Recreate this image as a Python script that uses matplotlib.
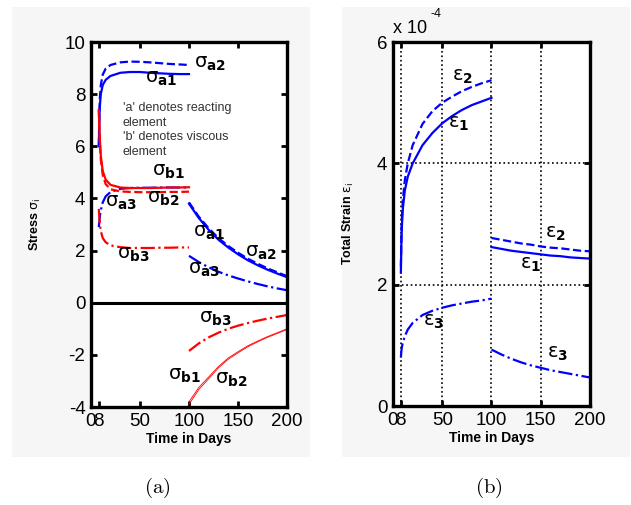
import numpy as np
import matplotlib.pyplot as plt
from matplotlib.patches import Rectangle
from matplotlib.ticker import FuncFormatter

plt.rcParams['font.family'] = ['Liberation Sans', 'DejaVu Sans']
plt.rcParams['axes.unicode_minus'] = False
plt.rcParams['mathtext.fontset'] = 'dejavusans'

# time (days): loading phase and unloading phase
t1 = [8, 8.5, 9, 10, 12, 15, 20, 30, 40, 50, 60, 70, 80, 90, 100]
t2 = [100, 110, 120, 130, 140, 150, 160, 170, 180, 190, 200]

# stresses, loading phase
sa1_1 = [6.0, 7.0, 7.5, 8.0, 8.35, 8.55, 8.7, 8.82, 8.85, 8.85, 8.82, 8.8, 8.78, 8.77, 8.77]
sa2_1 = [6.0, 7.2, 7.8, 8.35, 8.75, 8.98, 9.12, 9.22, 9.25, 9.24, 9.22, 9.19, 9.16, 9.14, 9.12]
sa3_1 = [2.9, 3.1, 3.3, 3.55, 3.85, 4.08, 4.25, 4.37, 4.4, 4.41, 4.41, 4.42, 4.42, 4.42, 4.42]
sb1_1 = [7.4, 6.8, 6.3, 5.65, 5.05, 4.72, 4.52, 4.42, 4.4, 4.4, 4.4, 4.41, 4.42, 4.42, 4.43]
sb2_1 = [7.4, 6.7, 6.2, 5.5, 4.9, 4.55, 4.35, 4.27, 4.25, 4.24, 4.24, 4.24, 4.25, 4.25, 4.26]
sb3_1 = [3.6, 3.3, 3.05, 2.75, 2.48, 2.32, 2.2, 2.13, 2.1, 2.1, 2.1, 2.11, 2.11, 2.12, 2.12]

# stresses, unloading phase
sa1_2 = [3.8, 3.25, 2.8, 2.42, 2.12, 1.86, 1.63, 1.44, 1.27, 1.12, 0.98]
sa2_2 = [3.85, 3.3, 2.86, 2.48, 2.18, 1.92, 1.69, 1.5, 1.32, 1.17, 1.02]
sa3_2 = [1.8, 1.56, 1.36, 1.19, 1.05, 0.93, 0.82, 0.72, 0.63, 0.55, 0.48]
sb1_2 = [-3.8, -3.25, -2.85, -2.45, -2.12, -1.88, -1.65, -1.47, -1.3, -1.15, -1.0]
sb2_2 = [-3.9, -3.33, -2.92, -2.5, -2.17, -1.92, -1.69, -1.5, -1.33, -1.18, -1.03]
sb3_2 = [-1.85, -1.56, -1.33, -1.15, -1.0, -0.88, -0.78, -0.69, -0.61, -0.54, -0.47]

# total strains (x 1e-4)
e1_1 = [2.2, 2.65, 2.95, 3.25, 3.55, 3.78, 4.0, 4.3, 4.5, 4.66, 4.78, 4.88, 4.96, 5.02, 5.08]
e2_1 = [2.3, 2.8, 3.1, 3.4, 3.72, 4.0, 4.3, 4.65, 4.86, 5.0, 5.1, 5.19, 5.26, 5.32, 5.37]
e3_1 = [0.8, 0.9, 0.97, 1.05, 1.15, 1.26, 1.37, 1.5, 1.57, 1.62, 1.66, 1.69, 1.72, 1.74, 1.77]
e1_2 = [2.62, 2.59, 2.56, 2.54, 2.52, 2.5, 2.48, 2.47, 2.45, 2.44, 2.43]
e2_2 = [2.77, 2.74, 2.71, 2.68, 2.66, 2.63, 2.61, 2.6, 2.58, 2.56, 2.55]
e3_2 = [0.93, 0.85, 0.78, 0.72, 0.67, 0.63, 0.59, 0.56, 0.53, 0.5, 0.47]

xticks = [0, 8, 50, 100, 150, 200]
xticklabels = ['0', '8', '50', '100', '150', '200']

blue = '#0000ff'
red = '#ff0000'
bg = '#f5f6f5'

fig = plt.figure(figsize=(6.31, 5.05), dpi=100)
fig.patches.append(Rectangle((0.019, 0.095), 0.472, 0.891, transform=fig.transFigure,
                             facecolor=bg, edgecolor='none', zorder=-10))
fig.patches.append(Rectangle((0.542, 0.095), 0.456, 0.891, transform=fig.transFigure,
                             facecolor=bg, edgecolor='none', zorder=-10))

ax1 = fig.add_axes([0.1442, 0.194, 0.3106, 0.7228])
ax2 = fig.add_axes([0.6228, 0.196, 0.3122, 0.7208])


def style(ax):
    ax.set_xlim(0, 200)
    ax.set_xticks(xticks)
    ax.set_xticklabels(xticklabels)
    for s in ax.spines.values():
        s.set_linewidth(2.4)
    ax.tick_params(direction='in', length=4, width=2, top=True, right=True,
                   labelsize=13.5, pad=4)
    ax.set_xlabel('Time in Days', fontsize=10, fontweight='bold', labelpad=2)


# ---- (a) stresses ----
ax = ax1
ax.plot(t1, sa1_1, color=blue, lw=1.6)
ax.plot(t1, sa2_1, color=blue, lw=1.6, ls='--')
ax.plot(t1, sa3_1, color=blue, lw=1.6, ls='-.')
ax.plot(t1, sb1_1, color=red, lw=1.6)
ax.plot(t1, sb2_1, color=red, lw=1.6, ls='--')
ax.plot(t1, sb3_1, color=red, lw=1.6, ls='-.')
ax.plot(t2, sa1_2, color=blue, lw=1.6)
ax.plot(t2, sa2_2, color=blue, lw=1.6, ls='--')
ax.plot(t2, sa3_2, color=blue, lw=1.6, ls='-.')
ax.plot(t2, sb1_2, color=red, lw=0.6)
ax.plot(t2, sb2_2, color=red, lw=0.6)
ax.plot(t2, sb3_2, color=red, lw=1.6, ls='-.')
ax.axhline(0, color='black', lw=2.2)
ax.set_ylim(-4, 10)
ax.set_yticks([-4, -2, 0, 2, 4, 6, 8, 10])
style(ax)
ax.set_ylabel(r'Stress $\mathrm{\sigma}_\mathrm{i}$', fontsize=9, fontweight='bold')
ax.yaxis.set_label_coords(-0.245, 0.5)

sig_labels = [
    (105, 9.0, 'a2'), (55, 8.43, 'a1'), (62, 4.86, 'b1'), (14, 3.67, 'a3'),
    (57, 3.82, 'b2'), (104, 2.52, 'a1'), (157, 1.75, 'a2'), (26.5, 1.68, 'b3'),
    (99, 1.1, 'a3'), (110, -0.78, 'b3'), (78.5, -2.96, 'b1'), (127, -3.12, 'b2'),
]
for x, y, s in sig_labels:
    ax.text(x, y, r'$\mathrm{\sigma}_{\mathbf{%s}}$' % s, fontsize=14,
            va='baseline', ha='left')
ax.text(32.6, 7.7, "'a' denotes reacting\nelement\n'b' denotes viscous\nelement",
        fontsize=9, color='#333333', va='top', ha='left', linespacing=1.3)

# ---- (b) strains ----
ax = ax2
sc = 1e-4
ax.plot(t1, np.array(e1_1) * sc, color=blue, lw=1.6)
ax.plot(t1, np.array(e2_1) * sc, color=blue, lw=1.6, ls='--')
ax.plot(t1, np.array(e3_1) * sc, color=blue, lw=1.6, ls='-.')
ax.plot(t2, np.array(e1_2) * sc, color=blue, lw=1.6)
ax.plot(t2, np.array(e2_2) * sc, color=blue, lw=1.6, ls='--')
ax.plot(t2, np.array(e3_2) * sc, color=blue, lw=1.6, ls='-.')
ax.set_ylim(0, 6e-4)
ax.set_yticks([0, 2e-4, 4e-4, 6e-4])
ax.yaxis.set_major_formatter(FuncFormatter(lambda v, p: '%g' % round(v * 1e4, 6)))
ax.grid(True, color='black', ls=':', lw=1.2)
style(ax)
ax.set_ylabel(r'Total Strain $\mathrm{\varepsilon}_\mathrm{i}$', fontsize=9,
              fontweight='bold')
ax.yaxis.set_label_coords(-0.188, 0.5)
ax.text(0.0, 1.015, 'x 10', transform=ax.transAxes, fontsize=13,
        ha='left', va='bottom')
ax.text(0.19, 1.06, '-4', transform=ax.transAxes, fontsize=9,
        ha='left', va='bottom')

eps_labels = [(60, 5.37, '2'), (56, 4.58, '1'), (154, 2.77, '2'),
              (129, 2.27, '1'), (30, 1.33, '3'), (156, 0.79, '3')]
for x, y, s in eps_labels:
    ax.text(x, y * sc, r'$\mathrm{\varepsilon}_{\mathbf{%s}}$' % s, fontsize=14,
            va='baseline', ha='left')

fig.text(157 / 631, 1 - 488 / 505, r'$\mathrm{(a)}$', fontsize=15, ha='center', va='center',
         math_fontfamily='cm')
fig.text(489 / 631, 1 - 488 / 505, r'$\mathrm{(b)}$', fontsize=15, ha='center', va='center',
         math_fontfamily='cm')

fig.savefig('out.png', dpi=100, facecolor='white')
